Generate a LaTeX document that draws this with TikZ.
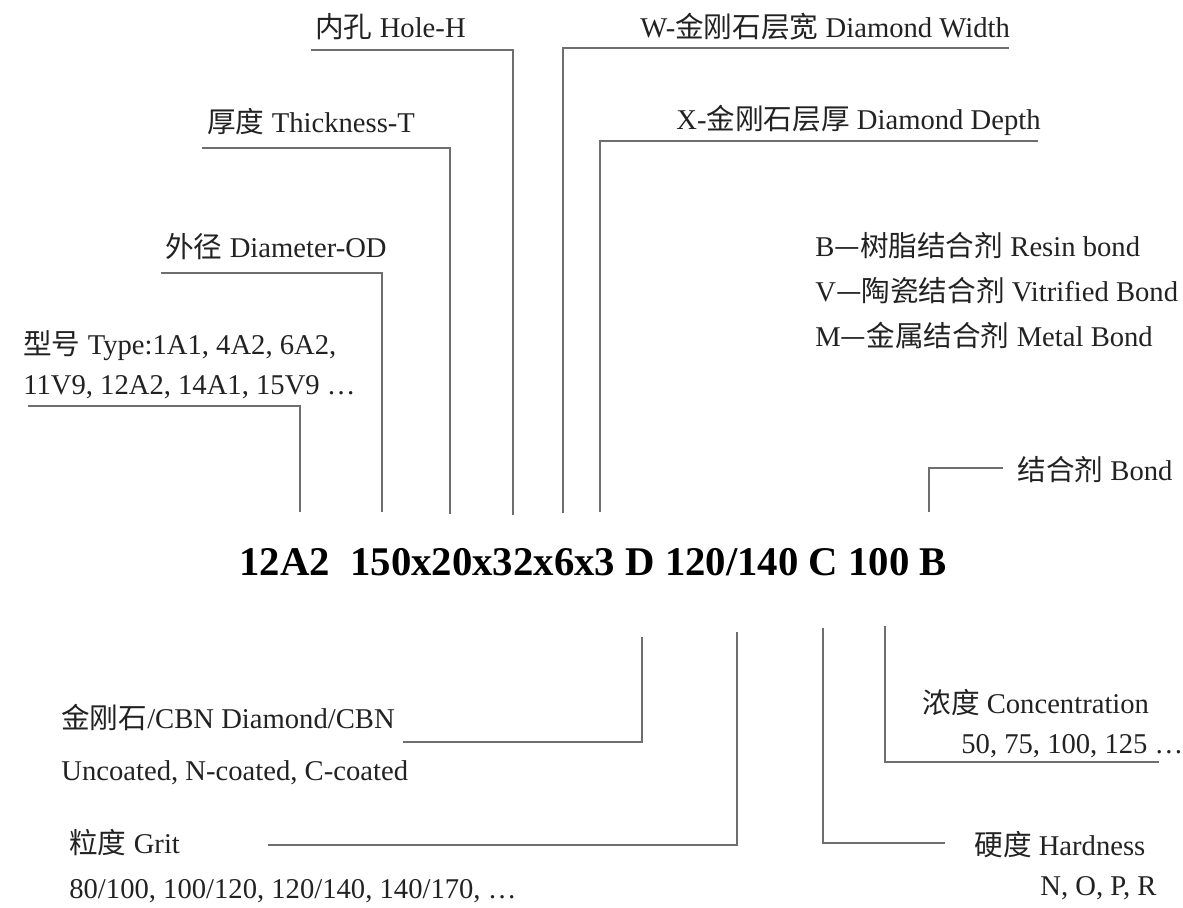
\documentclass[tikz,border=0pt]{standalone}
\usepackage{fontspec}
\setmainfont{Liberation Serif}
\newfontfamily\cjk{Noto Sans CJK SC}
\usetikzlibrary{positioning}
\definecolor{leadgray}{HTML}{6E6E6E}
\definecolor{txtgray}{HTML}{222222}

\begin{document}
\begin{tikzpicture}[x=0.02cm,y=-0.02cm,
  lbl/.style={anchor=base west,inner sep=0pt,text=txtgray,font=\fontsize{16.3}{19}\selectfont},
  lead/.style={draw=leadgray,line width=0.7pt}]
  \useasboundingbox (0,0) rectangle (1183,908);
  % the code
  \node[anchor=base west,inner sep=0pt,font=\fontsize{23.2}{28}\selectfont\bfseries](code) at (239,575) {12A2~~150x20x32x6x3 D 120/140 C 100 B};
  % ticks above and below the code
  \coordinate (tType) at (300,512);
  \coordinate (tDia) at (382,512);
  \coordinate (tThick) at (450,514);
  \coordinate (tHole) at (513,515);
  \coordinate (tWidth) at (563,513);
  \coordinate (tDepth) at (600,512);
  \coordinate (tBond) at (929,512);
  \coordinate (bDiam) at (642,637);
  \coordinate (bGrit) at (737,632);
  \coordinate (bHard) at (823,628);
  \coordinate (bConc) at (885,626);
  % upper labels
  \node[lbl](hole) at (315,38) {{\cjk 内孔} Hole-H};
  \node[lbl](width) at (640,38) {W-{\cjk 金刚石层宽} Diamond Width};
  \node[lbl](thick) at (207,133) {{\cjk 厚度} Thickness-T};
  \node[lbl](depth) at (676,130) {X-{\cjk 金刚石层厚} Diamond Depth};
  \node[lbl](dia) at (165,258) {{\cjk 外径} Diameter-OD};
  \node[lbl](type) at (23,355) {{\cjk 型号} Type:1A1, 4A2, 6A2,};
  \node[lbl](types) at (23,395) {11V9, 12A2, 14A1, 15V9 …};
  \node[lbl](resin) at (815,257) {B{\cjk —树脂结合剂} Resin bond};
  \node[lbl](vitr) at (815,302) {V{\cjk —陶瓷结合剂} Vitrified Bond};
  \node[lbl](metal) at (815,347) {M{\cjk —金属结合剂} Metal Bond};
  \node[lbl](bond) at (1017,480) {{\cjk 结合剂} Bond};
  % lower labels
  \node[lbl](diam) at (61,728) {{\cjk 金刚石}/CBN Diamond/CBN};
  \node[lbl](coat) at (61,780) {Uncoated, N-coated, C-coated};
  \node[lbl](grit) at (69,853) {{\cjk 粒度} Grit};
  \node[lbl](grits) at (69,898) {80/100, 100/120, 120/140, 140/170, …};
  \node[lbl](conc) at (922,713) {{\cjk 浓度} Concentration};
  \node[lbl](concs) at (961,753) {50, 75, 100, 125 …};
  \node[lbl](hard) at (974,855) {{\cjk 硬度} Hardness};
  \node[lbl](hards) at (1040,895) {N, O, P, R};
  % line ends
  \coordinate (eHole) at (311,50);
  \coordinate (eWidth) at (1009,48);
  \coordinate (eThick) at (202,148);
  \coordinate (eDepth) at (1038,141);
  \coordinate (eDia) at (161,273);
  \coordinate (eType) at (28,406);
  \coordinate (eBond) at (1003,468);
  \coordinate (eDiam) at (403,742);
  \coordinate (eGrit) at (268,845);
  \coordinate (eHard) at (945,843);
  \coordinate (eConc) at (1159,762);
  % leaders
  \draw[lead] (tHole) |- (eHole);
  \draw[lead] (tWidth) |- (eWidth);
  \draw[lead] (tThick) |- (eThick);
  \draw[lead] (tDepth) |- (eDepth);
  \draw[lead] (tDia) |- (eDia);
  \draw[lead] (tType) |- (eType);
  \draw[lead] (tBond) |- (eBond);
  \draw[lead] (bDiam) |- (eDiam);
  \draw[lead] (bGrit) |- (eGrit);
  \draw[lead] (bHard) |- (eHard);
  \draw[lead] (bConc) |- (eConc);
\end{tikzpicture}
\end{document}
